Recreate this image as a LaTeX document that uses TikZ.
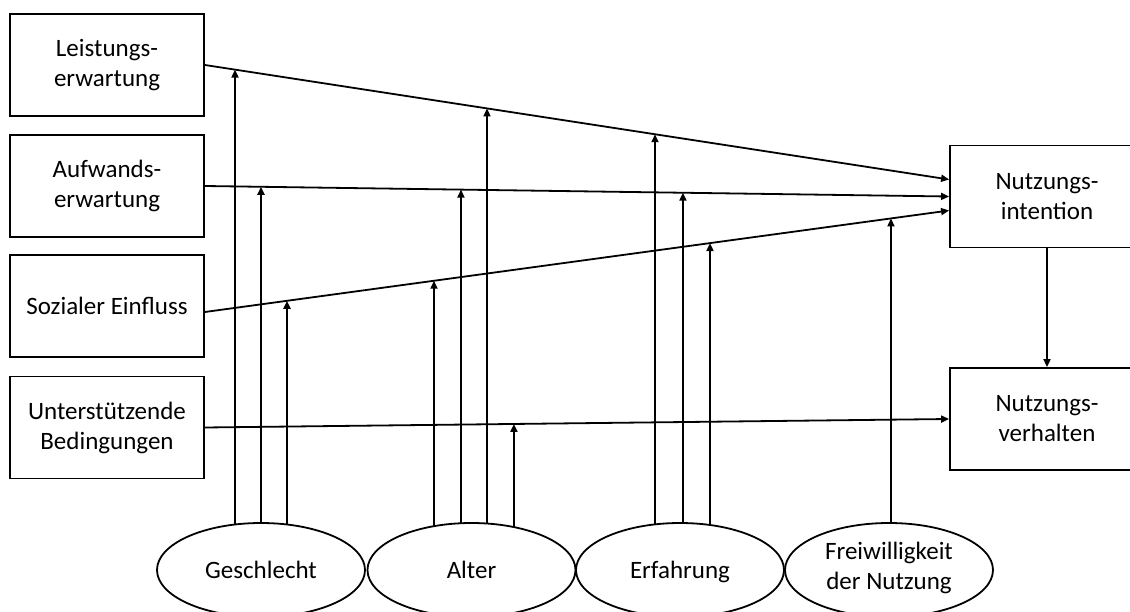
\documentclass[tikz,border=0pt]{standalone}
\usepackage{fontspec}
\setmainfont{Carlito}
\usetikzlibrary{arrows.meta,shapes.geometric}
\pgfdeclarelayer{bg}
\pgfdeclarelayer{paper}
\pgfsetlayers{paper,bg,main}
\begin{document}
\begin{tikzpicture}[x=1pt,y=-1pt,
  every node/.style={font=\fontsize{25}{30}\selectfont},
  box/.style={draw,line width=1.8pt,minimum width=194pt,minimum height=102pt,align=center,inner sep=0pt},
  oval/.style={draw,ellipse,fill=white,line width=1.8pt,minimum width=208pt,minimum height=94pt,align=center,inner sep=0pt},
  oneline/.style={text height=20pt,text depth=3pt},
  arr/.style={line width=1.8pt,-{Triangle[length=8pt,width=7pt]}},
  vline/.style={line width=1.8pt,-{Triangle[length=8pt,width=7pt]}}]
\useasboundingbox (0,0) rectangle (1130,612);
\clip (0,0) rectangle (1130,612);
\begin{pgfonlayer}{paper}
\fill[white] (0,0) rectangle (1130,612);
\end{pgfonlayer}

% left boxes
\node[box] (L) at (107,65) {Leistungs-\\erwartung};
\node[box] (A) at (107,186) {Aufwands-\\erwartung};
\node[box] (S) at (107,306) {Sozialer Einfluss};
\node[box] (U) at (107,427.5) {Unterstützende\\Bedingungen};

% right boxes
\node[box] (NI) at (1047,196.5) {Nutzungs-\\intention};
\node[box] (NV) at (1047,419) {Nutzungs-\\verhalten};

% moderators
\node[oval,oneline] (G) at (261,570) {Geschlecht};
\node[oval,oneline] (AL) at (471.5,570) {Alter};
\node[oval,oneline] (E) at (680,570) {Erfahrung};
\node[oval,text depth=9pt] (F) at (889,570) {Freiwilligkeit\\der Nutzung};

% line end points
\coordinate (l1a) at (L.east);
\coordinate (l1b) at ([yshift=17pt]NI.west);
\coordinate (l2a) at (A.east);
\coordinate (l2b) at (NI.west);
\coordinate (l3a) at ([yshift=-6pt]S.east);
\coordinate (l3b) at ([yshift=-14pt]NI.west);
\coordinate (l4a) at (U.east);
\coordinate (l4b) at (NV.west);

\draw[arr] (l1a) -- (l1b);
\draw[arr] (l2a) -- (l2b);
\draw[arr] (l3a) -- (l3b);
\draw[arr] (l4a) -- (l4b);
\draw[arr] (NI.south) -- (NV.north);

% tips of moderator arrows
\coordinate (g1) at (intersection of l1a--l1b and 235,0--235,1);
\coordinate (g2) at (intersection of l2a--l2b and 261,0--261,1);
\coordinate (g3) at (intersection of l3a--l3b and 287,0--287,1);
\coordinate (a1) at (intersection of l3a--l3b and 434,0--434,1);
\coordinate (a2) at (intersection of l2a--l2b and 461,0--461,1);
\coordinate (a3) at (intersection of l1a--l1b and 487,0--487,1);
\coordinate (a4) at (intersection of l4a--l4b and 514,0--514,1);
\coordinate (e1) at (intersection of l1a--l1b and 655,0--655,1);
\coordinate (e2) at (intersection of l2a--l2b and 683,0--683,1);
\coordinate (e3) at (intersection of l3a--l3b and 710,0--710,1);
\coordinate (f1) at (intersection of l3a--l3b and 891,0--891,1);

\begin{pgfonlayer}{bg}
\foreach \t in {g1,g2,g3} \draw[vline] (G.center -| \t) -- (\t);
\foreach \t in {a1,a2,a3,a4} \draw[vline] (AL.center -| \t) -- (\t);
\foreach \t in {e1,e2,e3} \draw[vline] (E.center -| \t) -- (\t);
\draw[vline] (F.center -| f1) -- (f1);
\end{pgfonlayer}
\end{tikzpicture}
\end{document}
